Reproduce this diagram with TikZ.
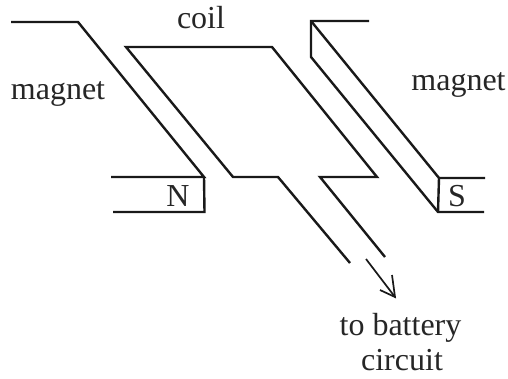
\documentclass[tikz,border=0pt]{standalone}
\usepackage{fontspec}
\setmainfont{Liberation Serif}
\begin{document}
\begin{tikzpicture}[x=1pt,y=-1pt,
  wire/.style={line width=2.4pt,line join=miter,color=black!90},
  thin wire/.style={line width=1.7pt,color=black!90},
  lbl/.style={inner sep=0pt,anchor=base,text=black!85,font=\fontsize{32}{32}\selectfont}]
\useasboundingbox (0,0) rectangle (508,379);
% left magnet
\draw[wire] (11,22) -- (78,22) -- (204,177) -- (111,177);
\draw[wire] (204,177) -- (204.5,212) -- (113,212);
% coil
\draw[wire] (350,263) -- (278,177) -- (233,177) -- (126,47) -- (272,47) -- (377,177) -- (320,177) -- (385,257);
% right magnet
\draw[wire] (369,21) -- (311,21) -- (311,57) -- (438,212) -- (484,212);
\draw[wire] (311,21) -- (439,178) -- (485,178);
\draw[wire] (439,178) -- (438,212);
% arrow
\coordinate (arrowstart) at (366,259);
\coordinate (arrowtip) at (395,297);
\draw[thin wire] (arrowstart) -- (arrowtip);
\draw[thin wire,line join=miter] (380,290) -- (arrowtip) -- (392,275);
% labels
\node[lbl] (coil) at (201,28.5) {coil};
\node[lbl] (magnetL) at (58,100) {magnet};
\node[lbl] (magnetR) at (458.5,90.5) {magnet};
\node[lbl] (north) at (178,207) {N};
\node[lbl] (south) at (457,207) {S};
\node[lbl] (battery) at (400.5,335) {to battery};
\node[lbl] (circuit) at (402,370) {circuit};
\end{tikzpicture}
\end{document}
